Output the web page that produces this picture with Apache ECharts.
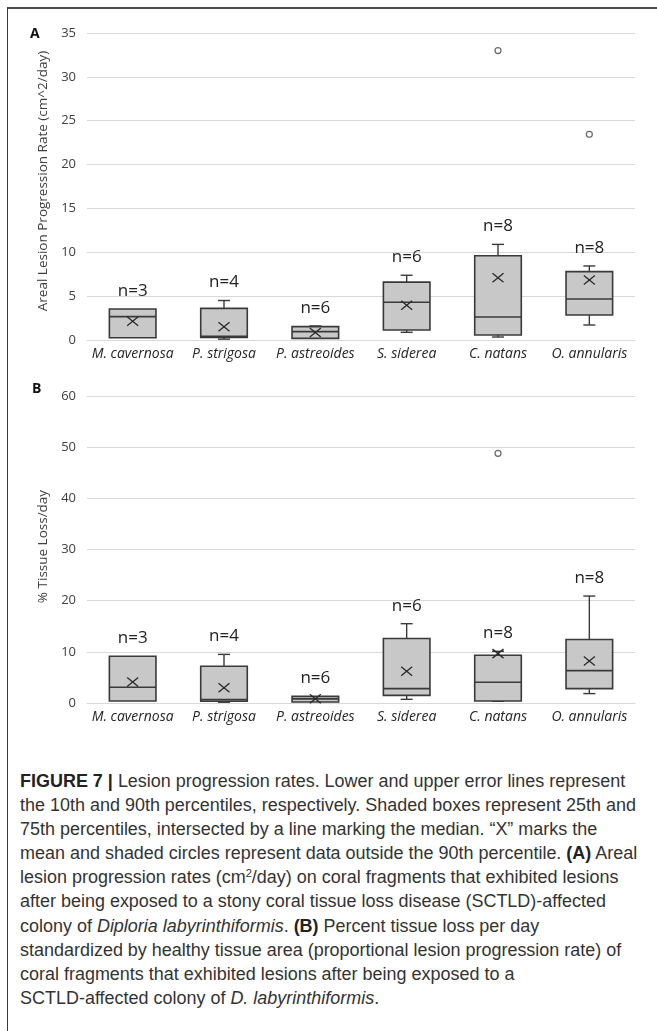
<!DOCTYPE html>
<html>
<head>
<meta charset="utf-8">
<script src="https://cdn.jsdelivr.net/npm/echarts@6/dist/echarts.min.js"></script>
<style>
  html, body { margin: 0; padding: 0; background: #fff; }
  body { width: 657px; height: 1031px; position: relative; overflow: hidden; }
  #frame { position: absolute; left: 7px; top: 7px; width: 650px; height: 1024px;
           border-top: 2px solid #4a4a4a; border-left: 1px solid #3a3a3a; box-sizing: border-box; }
  #chart { position: absolute; left: 0; top: 0; width: 657px; height: 740px; }
  #caption { position: absolute; left: 20px; top: 769px; color: #333;
             font-family: "Liberation Sans", Arial, sans-serif; font-size: 17.5px; font-weight: 300;
             line-height: 24.1px; white-space: nowrap; transform-origin: 0 0; }
  #caption b { font-weight: 700; color: #222; }
  #caption sup { font-size: 0.62em; line-height: 0; vertical-align: 0.55em; }
</style>
</head>
<body>
<div id="frame"></div>
<div id="chart"></div>
<div id="caption">
  <div class="ln"><b>FIGURE 7 |</b> Lesion progression rates. Lower and upper error lines represent</div>
  <div class="ln" id="widest">the 10th and 90th percentiles, respectively. Shaded boxes represent 25th and</div>
  <div class="ln">75th percentiles, intersected by a line marking the median. “X” marks the</div>
  <div class="ln">mean and shaded circles represent data outside the 90th percentile. <b>(A)</b> Areal</div>
  <div class="ln">lesion progression rates (cm<sup>2</sup>/day) on coral fragments that exhibited lesions</div>
  <div class="ln">after being exposed to a stony coral tissue loss disease (SCTLD)-affected</div>
  <div class="ln">colony of <i>Diploria labyrinthiformis</i>. <b>(B)</b> Percent tissue loss per day</div>
  <div class="ln">standardized by healthy tissue area (proportional lesion progression rate) of</div>
  <div class="ln">coral fragments that exhibited lesions after being exposed to a</div>
  <div class="ln">SCTLD-affected colony of <i>D. labyrinthiformis</i>.</div>
</div>
<script>
// Species and sample sizes
const species = ['M. cavernosa', 'P. strigosa', 'P. astreoides', 'S. siderea', 'C. natans', 'O. annularis'];
const sampleSizes = [3, 4, 6, 6, 8, 8];

// (A) Areal lesion progression rate, cm^2/day
const arealP10    = [0.26, 0.10, 0.19, 0.88, 0.34, 1.71];
const arealQ1     = [0.26, 0.30, 0.19, 1.14, 0.57, 2.85];
const arealMedian = [2.66, 0.42, 0.95, 4.30, 2.62, 4.67];
const arealQ3     = [3.53, 3.60, 1.52, 6.60, 9.60, 7.79];
const arealP90    = [3.53, 4.50, 1.60, 7.38, 10.9, 8.44];
const arealMean   = [2.15, 1.50, 0.85, 3.95, 7.10, 6.84];
const arealOutliers = [[4, 33.0], [5, 23.45]];

// (B) Percent tissue loss per day
const pctP10    = [0.40, 0.15, 0.20, 0.72, 0.33, 1.84];
const pctQ1     = [0.40, 0.33, 0.20, 1.50, 0.40, 2.80];
const pctMedian = [3.07, 0.66, 0.80, 2.80, 4.05, 6.33];
const pctQ3     = [9.13, 7.18, 1.30, 12.6, 9.33, 12.4];
const pctP90    = [9.13, 9.50, 1.30, 15.5, 10.1, 20.9];
const pctMean   = [4.10, 3.00, 0.85, 6.20, 9.65, 8.20];
const pctOutliers = [[4, 48.8]];

const areaTicks = { min: 0, max: 35, interval: 5 };
const pctTicks  = { min: 0, max: 60, interval: 10 };

const INK = '#3a3a3a';
const GRID_LINE = '#d9d9d9';

function rows(p10, q1, med, q3, p90, mean) {
  return species.map((_, i) => [i, p10[i], q1[i], med[i], q3[i], p90[i], mean[i]]);
}

function renderBox(params, api) {
  const i = api.value(0);
  const p10 = api.value(1), q1 = api.value(2), med = api.value(3);
  const q3 = api.value(4), p90 = api.value(5), mean = api.value(6);
  const cx = api.coord([i, 0])[0];
  const y = v => api.coord([i, v])[1];
  const bw = api.size([1, 0])[0] * 0.51;
  const cap = 6;
  const ls = { stroke: INK, lineWidth: 1.4 };
  const kids = [];
  if (p90 > q3) {
    kids.push({ type: 'line', shape: { x1: cx, y1: y(q3), x2: cx, y2: y(p90) }, style: ls });
    kids.push({ type: 'line', shape: { x1: cx - cap, y1: y(p90), x2: cx + cap, y2: y(p90) }, style: ls });
  }
  if (p10 < q1) {
    kids.push({ type: 'line', shape: { x1: cx, y1: y(q1), x2: cx, y2: y(p10) }, style: ls });
    kids.push({ type: 'line', shape: { x1: cx - cap, y1: y(p10), x2: cx + cap, y2: y(p10) }, style: ls });
  }
  kids.push({ type: 'rect', shape: { x: cx - bw / 2, y: y(q3), width: bw, height: y(q1) - y(q3) },
              style: { fill: '#c8c8c8', stroke: INK, lineWidth: 1.6 } });
  kids.push({ type: 'line', shape: { x1: cx - bw / 2, y1: y(med), x2: cx + bw / 2, y2: y(med) },
              style: { stroke: INK, lineWidth: 1.6 } });
  const mx = 5.5, my = 4.5, ym = y(mean);
  kids.push({ type: 'line', shape: { x1: cx - mx, y1: ym - my, x2: cx + mx, y2: ym + my }, style: { stroke: '#2a2a2a', lineWidth: 1.3 } });
  kids.push({ type: 'line', shape: { x1: cx - mx, y1: ym + my, x2: cx + mx, y2: ym - my }, style: { stroke: '#2a2a2a', lineWidth: 1.3 } });
  kids.push({ type: 'text', style: { x: cx, y: y(Math.max(p90, q3)) - 18, text: 'n=' + sampleSizes[i],
              font: '17px "Open Sans", sans-serif', fill: '#222', align: 'center', verticalAlign: 'middle' } });
  return { type: 'group', children: kids };
}

function xAxisFor(gridIndex) {
  return {
    type: 'category', gridIndex, data: species,
    axisLine: { lineStyle: { color: GRID_LINE, width: 1 } },
    axisTick: { show: false },
    axisLabel: { interval: 0, fontFamily: 'Open Sans', fontStyle: 'italic', fontSize: 14, color: '#262626', margin: 7 }
  };
}

function yAxisFor(gridIndex, ticks, name, pad) {
  return {
    type: 'value', gridIndex, min: ticks.min, max: ticks.max, interval: ticks.interval,
    name, nameLocation: 'middle', nameGap: 37,
    nameTextStyle: { fontFamily: 'Open Sans', fontSize: 13.5, color: '#404040', padding: [0, 0, 0, pad] },
    axisLine: { show: false }, axisTick: { show: false },
    axisLabel: { fontFamily: 'Open Sans', fontSize: 13, color: '#404040', margin: 11 },
    splitLine: { lineStyle: { color: GRID_LINE, width: 1 } }
  };
}

const outlierStyle = { color: '#fff', borderColor: '#444', borderWidth: 1.2 };

const chart = echarts.init(document.getElementById('chart'), null, { renderer: 'canvas' });
chart.setOption({
  animation: false,
  backgroundColor: 'transparent',
  grid: [
    { left: 87, right: 22, top: 33, height: 307 },
    { left: 87, right: 22, top: 396, height: 307 }
  ],
  xAxis: [xAxisFor(0), xAxisFor(1)],
  yAxis: [
    yAxisFor(0, areaTicks, 'Areal Lesion Progression Rate (cm^2/day)', 11),
    yAxisFor(1, pctTicks, '% Tissue Loss/day', 6)
  ],
  graphic: [
    { type: 'text', left: 30, top: 27, style: { text: 'A', font: 'bold 14px "Open Sans", sans-serif', fill: '#111' } },
    { type: 'text', left: 32, top: 382, style: { text: 'B', font: 'bold 14px "Open Sans", sans-serif', fill: '#111' } }
  ],
  series: [
    { type: 'custom', xAxisIndex: 0, yAxisIndex: 0, renderItem: renderBox,
      data: rows(arealP10, arealQ1, arealMedian, arealQ3, arealP90, arealMean), clip: false },
    { type: 'scatter', xAxisIndex: 0, yAxisIndex: 0, data: arealOutliers,
      symbol: 'circle', symbolSize: 6, itemStyle: outlierStyle },
    { type: 'custom', xAxisIndex: 1, yAxisIndex: 1, renderItem: renderBox,
      data: rows(pctP10, pctQ1, pctMedian, pctQ3, pctP90, pctMean), clip: false },
    { type: 'scatter', xAxisIndex: 1, yAxisIndex: 1, data: pctOutliers,
      symbol: 'circle', symbolSize: 6, itemStyle: outlierStyle }
  ]
});

// Fit the caption's longest line to the text column width
(function fitCaption() {
  const cap = document.getElementById('caption');
  const probe = document.getElementById('widest');
  const r = document.createRange();
  r.selectNodeContents(probe);
  const w = r.getBoundingClientRect().width;
  const target = 616;
  cap.style.transform = 'scaleX(' + (target / w).toFixed(4) + ')';
})();
</script>
</body>
</html>
